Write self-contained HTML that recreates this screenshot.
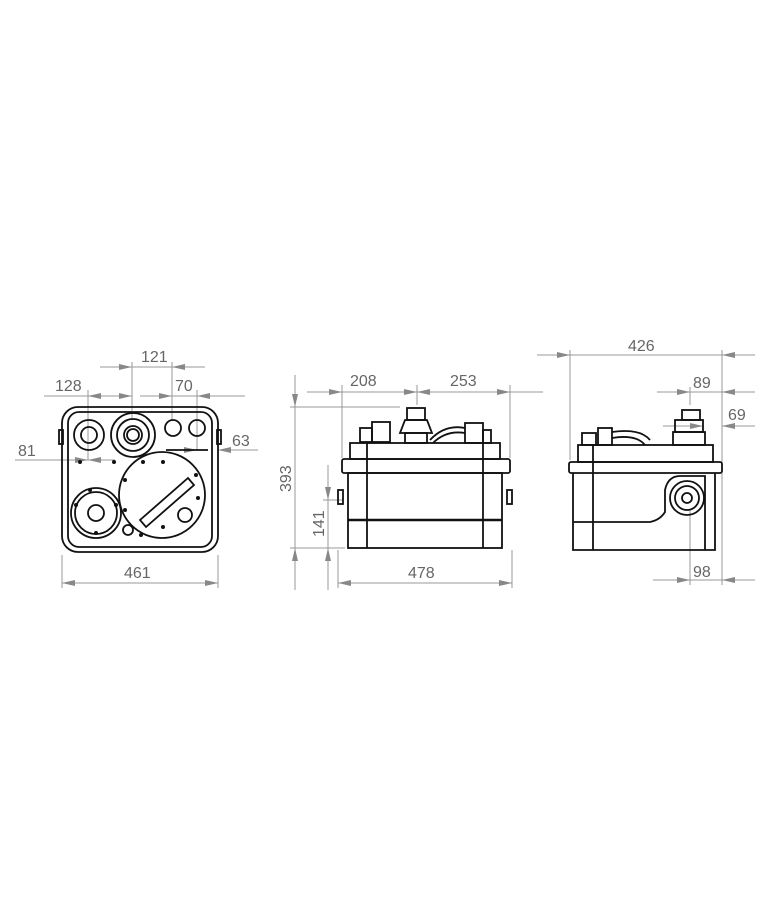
<!DOCTYPE html>
<html><head><style>body{margin:0;background:#fff}svg{display:block}text{font-family:"Liberation Sans",sans-serif;font-size:16px;fill:#666}</style></head><body>
<svg width="765" height="900" viewBox="0 0 765 900" xmlns="http://www.w3.org/2000/svg">
<defs><marker id="a" markerWidth="13" markerHeight="8" refX="13" refY="4" orient="auto-start-reverse" markerUnits="userSpaceOnUse"><path d="M0,1 L13,4 L0,7 z" fill="#888"/></marker></defs>
<g stroke="#999" stroke-width="1" fill="none">
<line x1="62" y1="555" x2="62" y2="588"/><line x1="218" y1="555" x2="218" y2="588"/>
<line x1="62" y1="583" x2="218" y2="583" marker-start="url(#a)" marker-end="url(#a)"/>
<line x1="132" y1="362" x2="132" y2="420"/><line x1="172" y1="362" x2="172" y2="420"/>
<line x1="100" y1="367" x2="132" y2="367" marker-end="url(#a)"/><line x1="205" y1="367" x2="172" y2="367" marker-end="url(#a)"/><line x1="132" y1="367" x2="172" y2="367"/>
<line x1="88" y1="390" x2="88" y2="460"/><line x1="197" y1="390" x2="197" y2="450"/>
<line x1="44" y1="396" x2="88" y2="396"/><line x1="88" y1="396" x2="132" y2="396" marker-start="url(#a)" marker-end="url(#a)"/>
<line x1="140" y1="396" x2="172" y2="396" marker-end="url(#a)"/><line x1="245" y1="396" x2="197" y2="396" marker-end="url(#a)"/><line x1="172" y1="396" x2="197" y2="396"/>
<line x1="15" y1="460" x2="88" y2="460" marker-end="url(#a)"/><line x1="115" y1="460" x2="88" y2="460" marker-end="url(#a)"/>
<line x1="180" y1="450" x2="197" y2="450" marker-end="url(#a)"/><line x1="258" y1="450" x2="218" y2="450" marker-end="url(#a)"/>
<line x1="290" y1="407" x2="400" y2="407"/><line x1="290" y1="548" x2="345" y2="548"/>
<line x1="295" y1="375" x2="295" y2="407" marker-end="url(#a)"/><line x1="295" y1="407" x2="295" y2="548"/><line x1="295" y1="590" x2="295" y2="548" marker-end="url(#a)"/>
<line x1="328" y1="465" x2="328" y2="500" marker-end="url(#a)"/><line x1="328" y1="500" x2="328" y2="548"/><line x1="328" y1="590" x2="328" y2="548" marker-end="url(#a)"/>
<line x1="323" y1="500" x2="343" y2="500"/>
<line x1="342" y1="385" x2="342" y2="458"/><line x1="417" y1="385" x2="417" y2="405"/><line x1="510" y1="385" x2="510" y2="458"/>
<line x1="307" y1="392" x2="342" y2="392" marker-end="url(#a)"/><line x1="342" y1="392" x2="417" y2="392" marker-end="url(#a)"/><line x1="417" y1="392" x2="510" y2="392" marker-start="url(#a)" marker-end="url(#a)"/><line x1="543" y1="392" x2="510" y2="392"/>
<line x1="338" y1="550" x2="338" y2="588"/><line x1="512" y1="550" x2="512" y2="588"/>
<line x1="338" y1="583" x2="512" y2="583" marker-start="url(#a)" marker-end="url(#a)"/>
<line x1="570" y1="350" x2="570" y2="460"/><line x1="722" y1="350" x2="722" y2="585"/>
<line x1="537" y1="355" x2="570" y2="355" marker-end="url(#a)"/><line x1="570" y1="355" x2="722" y2="355"/><line x1="755" y1="355" x2="722" y2="355" marker-end="url(#a)"/>
<line x1="690" y1="387" x2="690" y2="405"/>
<line x1="657" y1="392" x2="690" y2="392" marker-end="url(#a)"/><line x1="690" y1="392" x2="722" y2="392"/><line x1="755" y1="392" x2="722" y2="392" marker-end="url(#a)"/>
<line x1="663" y1="426" x2="703" y2="426" marker-end="url(#a)"/><line x1="755" y1="426" x2="722" y2="426" marker-end="url(#a)"/>
<line x1="690" y1="510" x2="690" y2="585"/>
<line x1="653" y1="580" x2="690" y2="580" marker-end="url(#a)"/><line x1="690" y1="580" x2="722" y2="580"/><line x1="755" y1="580" x2="722" y2="580" marker-end="url(#a)"/>
</g>
<text x="141" y="362">121</text><text x="55" y="391">128</text><text x="175" y="391">70</text>
<text x="18" y="456">81</text><text x="232" y="446">63</text><text x="124" y="578">461</text>
<text x="350" y="386">208</text><text x="450" y="386">253</text><text x="408" y="578">478</text>
<text transform="translate(291,492) rotate(-90)">393</text><text transform="translate(324,537) rotate(-90)">141</text>
<text x="628" y="351">426</text><text x="693" y="388">89</text><text x="728" y="420">69</text><text x="693" y="577">98</text>
<g stroke="#111" stroke-width="1.8" fill="none">
<rect x="62" y="407" width="156" height="145" rx="16"/>
<rect x="68" y="412" width="144" height="135" rx="11"/>
<rect x="59" y="430" width="4" height="14"/><rect x="217" y="430" width="4" height="14"/>
<circle cx="89" cy="435" r="15"/><circle cx="89" cy="435" r="8"/>
<circle cx="133" cy="435" r="22"/><circle cx="133" cy="435" r="16"/><circle cx="133" cy="435" r="9"/><circle cx="133" cy="435" r="6"/>
<circle cx="173" cy="428" r="8"/><circle cx="197" cy="428" r="8"/>
<path d="M166 450 H208"/>
<circle cx="162" cy="495" r="43"/>
<path d="M140 520 L188 478 L194 485 L146 527 z"/>
<circle cx="185" cy="515" r="7"/>
<circle cx="96" cy="513" r="25"/><circle cx="96" cy="513" r="21"/><circle cx="96" cy="513" r="8"/>
<circle cx="128" cy="530" r="5"/>
<rect x="350" y="443" width="150" height="16"/>
<rect x="342" y="459" width="168" height="14" rx="2"/>
<rect x="348" y="473" width="154" height="75"/>
<line x1="348" y1="520" x2="502" y2="520" stroke-width="2.5"/>
<line x1="367" y1="443" x2="367" y2="548"/><line x1="483" y1="443" x2="483" y2="548"/>
<rect x="338" y="490" width="5" height="14"/><rect x="507" y="490" width="5" height="14"/>
<rect x="407" y="408" width="18" height="12"/><path d="M405 420 H427 L432 433 H400 z"/><rect x="405" y="433" width="22" height="10"/>
<rect x="360" y="428" width="12" height="14"/><rect x="372" y="422" width="18" height="20"/>
<rect x="465" y="423" width="18" height="20"/><rect x="483" y="430" width="8" height="13"/>
<path d="M430 440 Q445 424 465 428"/><path d="M433 443 Q446 430 465 433"/>
<rect x="578" y="445" width="135" height="17"/>
<rect x="569" y="462" width="153" height="11" rx="2"/>
<path d="M573 473 V550 H715 V473"/>
<line x1="593" y1="445" x2="593" y2="550"/>
<path d="M573 522 H650 Q660 520 665 512 V490 Q668 476 680 476 H705 V550"/>
<circle cx="687" cy="498" r="17"/><circle cx="687" cy="498" r="12"/><circle cx="687" cy="498" r="5"/>
<rect x="682" y="410" width="18" height="10"/><rect x="675" y="420" width="28" height="12"/><rect x="673" y="432" width="32" height="13"/>
<rect x="598" y="428" width="14" height="17"/><rect x="582" y="433" width="14" height="12"/>
<path d="M612 432 Q640 428 650 440"/><path d="M612 438 Q636 434 645 445"/>
</g>
<g fill="#111">
<circle cx="80" cy="462" r="2"/><circle cx="114" cy="462" r="2"/>
<circle cx="143" cy="462" r="2"/><circle cx="163" cy="462" r="2"/><circle cx="125" cy="480" r="2"/><circle cx="125" cy="510" r="2"/><circle cx="196" cy="475" r="2"/><circle cx="198" cy="498" r="2"/><circle cx="163" cy="527" r="2"/><circle cx="141" cy="535" r="2"/>
<circle cx="90" cy="490" r="2"/><circle cx="76" cy="505" r="2"/><circle cx="116" cy="505" r="2"/><circle cx="96" cy="533" r="2"/>
</g>
</svg>
</body></html>
